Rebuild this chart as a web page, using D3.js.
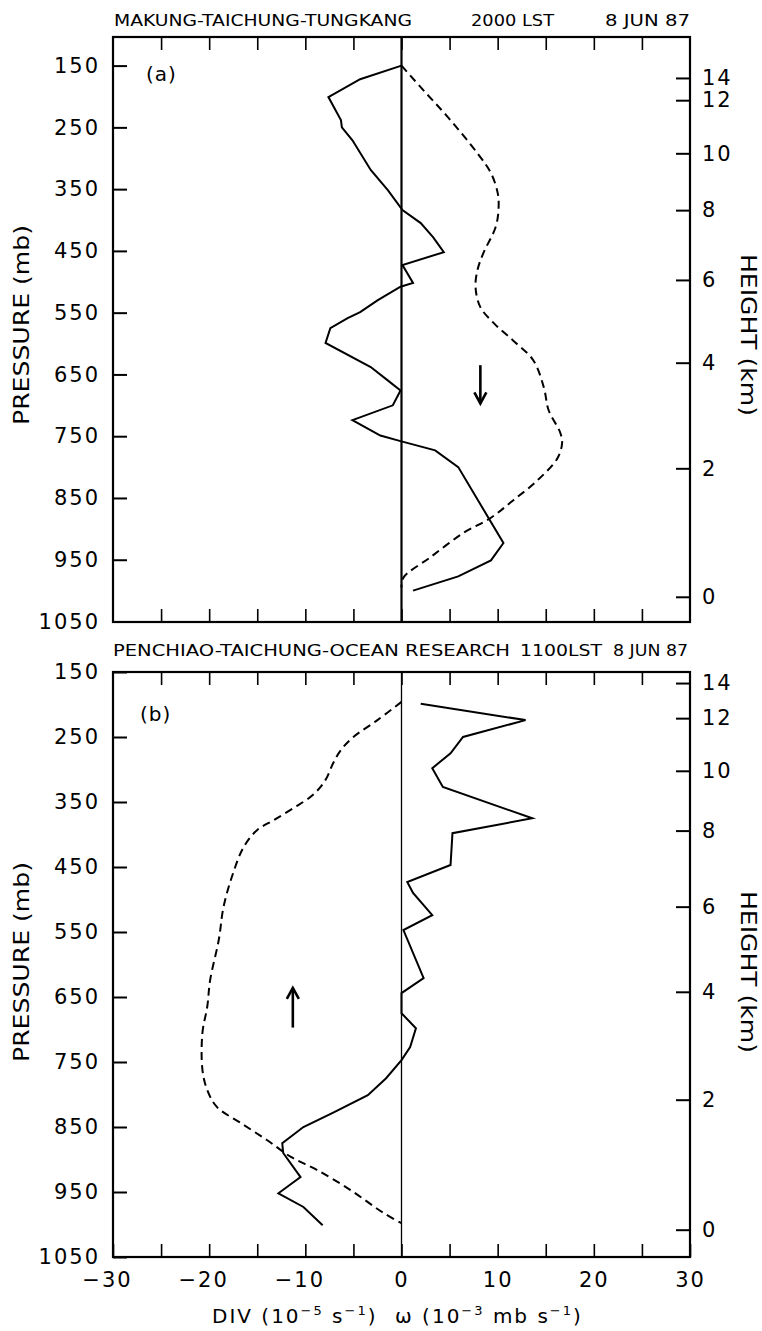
<!DOCTYPE html>
<html><head><meta charset="utf-8">
<script src="https://cdn.jsdelivr.net/npm/d3@7"></script>
<style>body{margin:0;background:#fff} svg{display:block}</style>
</head><body>
<svg id="c" width="762" height="1331"></svg>
<script>
// ---------- data ----------
const pressureTicks = [150,250,350,450,550,650,750,850,950,1050];
const xTicksAll = [-30,-25,-20,-15,-10,-5,0,5,10,15,20,25,30];
const xLabelTicks = [-30,-20,-10,0,10,20,30];
const heightLabels = [0,2,4,6,8,10,12,14];
const heightPressureA = [1010,802,631,497,384,292,206,170];
const heightPressureB = [1008,808,642,511,394,302,221,167];

const titleA = ["MAKUNG-TAICHUNG-TUNGKANG","2000 LST","8 JUN 87"];
const titleB = ["PENCHIAO-TAICHUNG-OCEAN RESEARCH","1100LST","8 JUN 87"];

// panel (a): divergence (solid) and omega (dashed)
const divA_p = [150,172,201,238,250,271,319,352,384,405,428,452,473,502,508,530,549,559,575,599,638,660,676,700,724,749,758,773,800,923,951,977,1000];
const divA_v = [0,-4.3,-7.6,-6.3,-6.2,-5.1,-3.2,-1.4,0.1,2.0,3.3,4.4,0.1,1.2,-0.1,-2.5,-4.3,-5.6,-7.4,-7.9,-3.2,-1.4,-0.1,-0.9,-5.1,-2.2,-0.1,3.5,5.9,10.6,9.3,5.9,1.2];
const omegaA_p = [150,192,233,292,324,356,379,411,454,481,509,541,567,595,627,671,708,744,761,786,822,854,882,907,946,979,995];
const omegaA_v = [0,2.4,4.8,7.9,9.3,10.0,10.1,9.8,8.5,7.9,7.7,8.2,9.6,11.6,13.7,14.8,15.3,16.5,16.7,16.2,14.1,11.6,9.3,6.4,3.0,0.2,0];

// panel (b)
const divB_p = [199,224,250,275,298,327,375,398,447,473,490,524,547,621,644,675,698,727,747,775,801,828,850,875,890,927,952,973,1001];
const divB_v = [2.0,12.9,6.4,5.1,3.2,4.3,13.6,5.3,5.1,0.6,1.2,3.2,0.2,2.3,0,0,1.5,0.9,0,-1.6,-3.5,-7.1,-10.2,-12.4,-12.3,-10.5,-12.8,-10.2,-8.2];
const omegaB_p = [196,224,250,270,290,316,339,359,378,393,419,459,511,562,624,665,705,762,793,819,844,870,896,916,947,982,998];
const omegaB_v = [0,-2.5,-5.0,-6.3,-7.1,-7.9,-9.2,-11.2,-13.3,-15.0,-16.4,-17.5,-18.5,-19.0,-19.9,-20.2,-20.7,-20.7,-20.2,-19.2,-16.7,-14.0,-11.5,-8.8,-5.3,-1.9,0];

// vertical-motion arrows: [omega value, from pressure, to pressure]
const arrowA = [8.2, 635, 697];
const arrowB = [-11.3, 697, 636];

// ---------- drawing ----------
const FONT = "DejaVu Sans, sans-serif";
const svg = d3.select("#c");
const x = d3.scaleLinear().domain([-30,30]).range([113,690]);

const panels = [
  {title:titleA, titleSpans:[[114,412],[471,554],[605,690]], titleY:26,
   top:37, bottom:622, y:d3.scaleLinear().domain([150,1050]).range([65.6,621.5]),
   hp:heightPressureA, div:[divA_p,divA_v], om:[omegaA_p,omegaA_v], arrow:arrowA,
   label:"(a)", labelX:146, labelY:81, zeroW:2.2, pressY:325, heightY:335, xlabels:false},
  {title:titleB, titleSpans:[[113,510],[520,602],[613,688]], titleY:656,
   top:672, bottom:1257, y:d3.scaleLinear().domain([150,1050]).range([672,1257]),
   hp:heightPressureB, div:[divB_p,divB_v], om:[omegaB_p,omegaB_v], arrow:arrowB,
   label:"(b)", labelX:140, labelY:721, zeroW:1.3, pressY:962, heightY:972, xlabels:true}
];

function styleAxis(g, size){
  g.select(".domain").remove();
  g.selectAll(".tick line").attr("stroke","#000").attr("stroke-width",2);
  g.selectAll(".tick text").attr("font-family",FONT).attr("font-size",size)
    .attr("fill","#000").attr("letter-spacing",2);
}

panels.forEach(P => {
  const y = P.y;
  const g = svg.append("g");

  // titles
  P.title.forEach((t,i) => {
    const [a,b] = P.titleSpans[i];
    g.append("text").attr("x",a).attr("y",P.titleY).text(t)
      .attr("font-family",FONT).attr("font-size",15)
      .attr("textLength",b-a).attr("lengthAdjust","spacingAndGlyphs");
  });

  // zero line
  g.append("line").attr("x1",x(0)).attr("x2",x(0)).attr("y1",P.top).attr("y2",P.bottom)
    .attr("stroke","#000").attr("stroke-width",P.zeroW);

  // ticks top/bottom
  const top = g.append("g").attr("transform",`translate(0,${P.top})`)
    .call(d3.axisTop(x).tickValues(xTicksAll.slice(1,-1)).tickSizeInner(-13).tickSizeOuter(0).tickFormat(""));
  styleAxis(top,20); top.selectAll(".tick line").attr("stroke-width",1.6);
  const bot = g.append("g").attr("transform",`translate(0,${P.bottom})`)
    .call(d3.axisBottom(x).tickValues(P.xlabels ? xTicksAll : xTicksAll.slice(1,-1))
      .tickSizeInner(-13).tickSizeOuter(0).tickPadding(15)
      .tickFormat(d => (P.xlabels && xLabelTicks.includes(d)) ? (d<0 ? "\u2212"+Math.abs(d) : String(d)) : ""));
  styleAxis(bot,21); bot.selectAll(".tick line").attr("stroke-width",1.6);
  bot.selectAll(".tick text").attr("dx", d => d<0 ? -6 : 0);

  // left pressure axis
  const left = g.append("g").attr("transform",`translate(${x(-30)},0)`)
    .call(d3.axisLeft(y).tickValues(pressureTicks).tickSizeInner(-14).tickSizeOuter(0).tickPadding(13)
      .tickFormat(d3.format("d")));
  styleAxis(left,21);

  // right height axis
  const right = g.append("g").attr("transform",`translate(${x(30)},0)`)
    .call(d3.axisRight(y).tickValues(P.hp).tickSizeInner(-14).tickSizeOuter(0).tickPadding(12)
      .tickFormat(d => heightLabels[P.hp.indexOf(d)]));
  styleAxis(right,21);

  // frame
  g.append("rect").attr("x",x(-30)).attr("y",P.top).attr("width",x(30)-x(-30)).attr("height",P.bottom-P.top)
    .attr("fill","none").attr("stroke","#000").attr("stroke-width",2.2);

  // axis titles
  g.append("text").attr("transform",`translate(22,${P.pressY}) rotate(-90)`)
    .attr("text-anchor","middle").attr("dominant-baseline","central")
    .attr("font-family",FONT).attr("font-size",21).attr("textLength",200).attr("lengthAdjust","spacingAndGlyphs")
    .text("PRESSURE (mb)");
  g.append("text").attr("transform",`translate(748,${P.heightY}) rotate(90)`)
    .attr("text-anchor","middle").attr("dominant-baseline","central")
    .attr("font-family",FONT).attr("font-size",21).attr("textLength",162).attr("lengthAdjust","spacingAndGlyphs")
    .text("HEIGHT (km)");

  g.append("text").attr("x",P.labelX).attr("y",P.labelY).text(P.label)
    .attr("font-family",FONT).attr("font-size",20).attr("letter-spacing",1);

  // series
  const solid = d3.line().x(d=>x(d[1])).y(d=>y(d[0]));
  const dashed = d3.line().x(d=>x(d[1])).y(d=>y(d[0])).curve(d3.curveCatmullRom.alpha(0.5));
  g.append("path").attr("d", solid(d3.zip(P.div[0],P.div[1])))
    .attr("fill","none").attr("stroke","#000").attr("stroke-width",2).attr("stroke-linejoin","miter");
  g.append("path").attr("d", dashed(d3.zip(P.om[0],P.om[1])))
    .attr("fill","none").attr("stroke","#000").attr("stroke-width",2).attr("stroke-dasharray","8,5");

  // arrow
  const [av,p0,p1] = P.arrow;
  const ax = x(av), y0 = y(p0), y1 = y(p1), dir = y1>y0 ? 1 : -1;
  g.append("line").attr("x1",ax).attr("x2",ax).attr("y1",y0).attr("y2",y1)
    .attr("stroke","#000").attr("stroke-width",2.6);
  g.append("path").attr("d",`M${ax-6},${y1-dir*11}L${ax},${y1}L${ax+6},${y1-dir*11}`)
    .attr("fill","none").attr("stroke","#000").attr("stroke-width",2.6);
});

// bottom axis title
const bt = svg.append("g").attr("font-family",FONT).attr("font-size",20).attr("letter-spacing",2);
const t1 = bt.append("text").attr("x",212).attr("y",1323);
t1.append("tspan").text("DIV (10");
t1.append("tspan").attr("font-size",13).attr("dy",-8).text("\u22125");
t1.append("tspan").attr("dy",8).text(" s");
t1.append("tspan").attr("font-size",13).attr("dy",-8).text("\u22121");
t1.append("tspan").attr("dy",8).text(")");
const t2 = bt.append("text").attr("x",395).attr("y",1323);
t2.append("tspan").text("\u03c9 (10");
t2.append("tspan").attr("font-size",13).attr("dy",-8).text("\u22123");
t2.append("tspan").attr("dy",8).text(" mb s");
t2.append("tspan").attr("font-size",13).attr("dy",-8).text("\u22121");
t2.append("tspan").attr("dy",8).text(")");
</script>
</body></html>
